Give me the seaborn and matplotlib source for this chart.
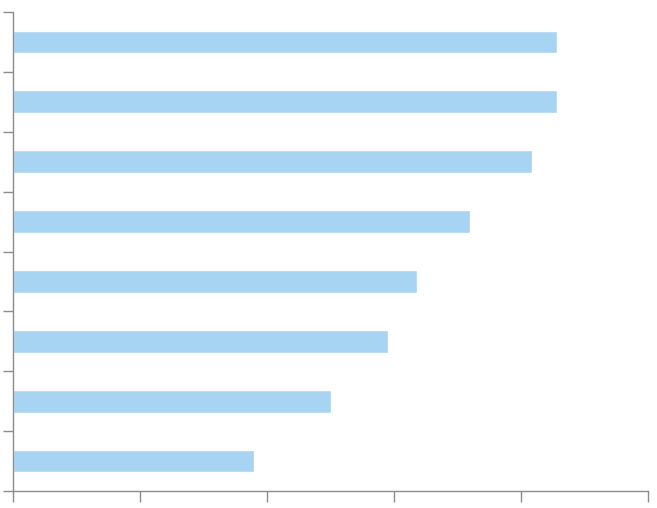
import matplotlib
matplotlib.use("Agg")
import matplotlib.pyplot as plt
import numpy as np
import pandas as pd
import seaborn as sns

# Chart data (no labels shown in the reference)
categories = ["A", "B", "C", "D", "E", "F", "G", "H"]
values = [42.8, 42.8, 40.9, 36.0, 31.8, 29.5, 25.0, 19.0]
x_ticks = [0, 10, 20, 30, 40, 50]

bar_color = "#a8d4f4"
axis_color = "#8c8c8c"

sns.set_theme(style="white")
plt.rcParams["font.family"] = ["DejaVu Sans"]

df = pd.DataFrame({"category": categories, "value": values})

fig = plt.figure(figsize=(6.57, 5.08), dpi=100)
ax = fig.add_axes([13 / 657, 17 / 508, 635 / 657, 479 / 508])

sns.barplot(data=df, x="value", y="category", orient="h", color=bar_color,
            saturation=1, width=0.38, ax=ax)

ax.set_xlim(0, 50)
ax.set_ylim(len(categories) - 0.5, -0.5)
ax.set_xticks(x_ticks)
ax.set_xticklabels([])
ax.set_yticks(np.arange(len(categories) + 1) - 0.5)
ax.set_yticklabels([])
ax.set_xlabel("")
ax.set_ylabel("")

for side in ["top", "right"]:
    ax.spines[side].set_visible(False)
for side in ["left", "bottom"]:
    ax.spines[side].set_color(axis_color)
    ax.spines[side].set_linewidth(1)
ax.tick_params(axis="x", direction="out", length=8, width=1, color=axis_color, bottom=True)
ax.tick_params(axis="y", direction="out", length=7, width=1, color=axis_color, left=True)

fig.savefig("out.png", dpi=100, facecolor="white")
